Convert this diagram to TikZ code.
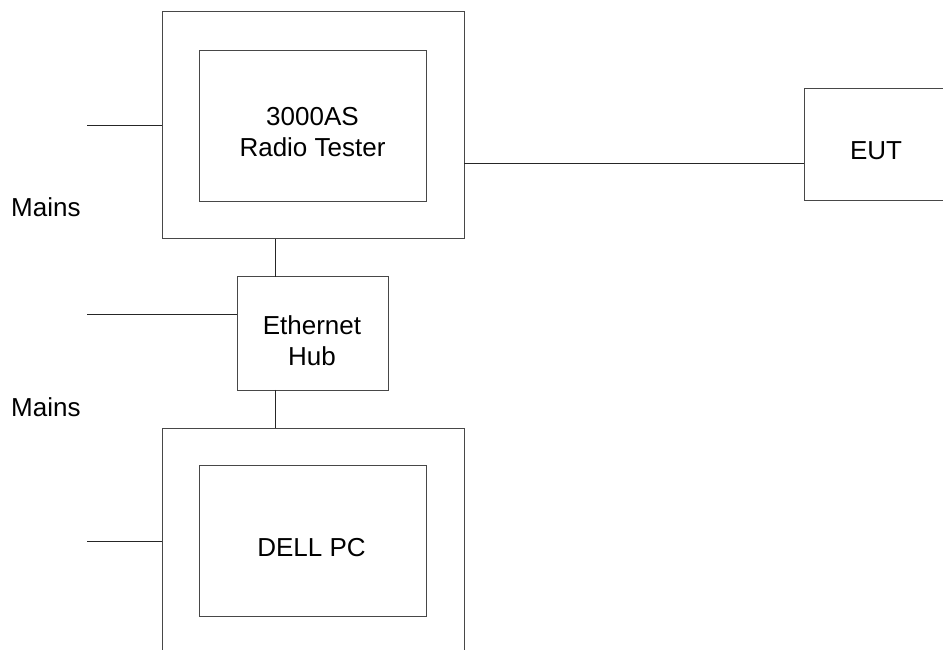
\documentclass[tikz,border=0pt]{standalone}
\usepackage{fontspec}
\setmainfont{Liberation Sans}
\begin{document}
\begin{tikzpicture}[x=1pt,y=-1pt,
  box/.style={draw=black!72,line width=0.9pt,rectangle,inner sep=0pt,outer sep=0pt},
  wire/.style={draw=black!85,line width=0.9pt},
  lbl/.style={inner sep=0pt,align=center,font=\fontsize{26pt}{31pt}\selectfont}]
\useasboundingbox (0,0) rectangle (943,650);
\clip (0,0) rectangle (943,650);
% boxes
\node[box,minimum width=302.3pt,minimum height=226.7pt] (outer1) at (313.2,125.3) {};
\node[box,minimum width=227pt,minimum height=151pt] (inner1) at (313.2,125.5) {};
\node[box,minimum width=151.4pt,minimum height=113.3pt] (hub) at (313,333.3) {};
\node[box,minimum width=302.3pt,minimum height=226.7pt] (outer2) at (313.2,541.7) {};
\node[box,minimum width=227pt,minimum height=151pt] (inner2) at (313.2,541.2) {};
\node[box,minimum width=144pt,minimum height=112.4pt] (eut) at (876.3,144.5) {};
% labels
\node[lbl] (t1) at (312.5,132.3) {3000AS\\Radio Tester};
\node[lbl] (t2) at (312,340.5) {Ethernet\\Hub};
\node[lbl] (t3) at (311.5,547.5) {DELL PC};
\node[lbl] (t4) at (876,151) {EUT};
\node[lbl,anchor=base west] (mains1) at (11,216.7) {Mains};
\node[lbl,anchor=base west] (mains2) at (11,416.7) {Mains};
% connector helpers
\coordinate (m1) at (87,125.3);
\coordinate (m2) at (87,314.3);
\coordinate (m3) at (87,541);
\coordinate (rf) at (0,163.3);
\coordinate (vx) at (275.3,0);
% connectors
\draw[wire] (m1) -- (m1 -| outer1.west);
\draw[wire] (m2) -- (m2 -| hub.west);
\draw[wire] (m3) -- (m3 -| outer2.west);
\draw[wire] (outer1.east |- rf) -- (eut.west |- rf);
\draw[wire] (outer1.south -| vx) -- (hub.north -| vx);
\draw[wire] (hub.south -| vx) -- (outer2.north -| vx);
\end{tikzpicture}
\end{document}
